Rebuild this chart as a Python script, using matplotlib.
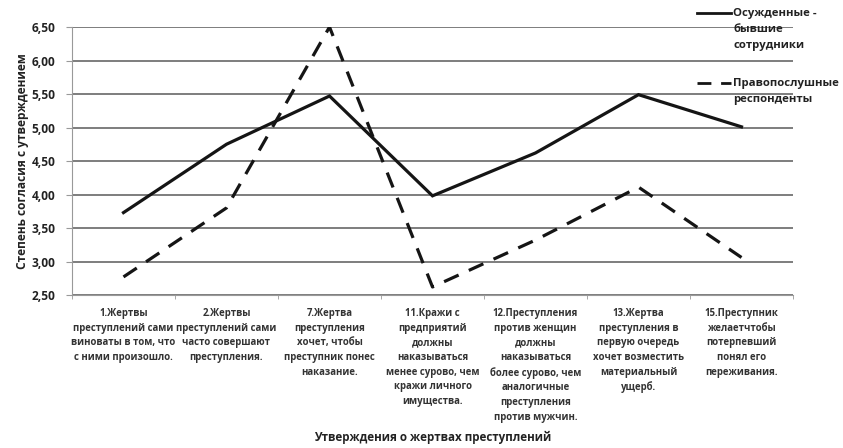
import matplotlib.pyplot as plt
from matplotlib.lines import Line2D

# data
categories = [
    "1.Жертвы\nпреступлений сами\nвиноваты в том, что\nс ними произошло.",
    "2.Жертвы\nпреступлений сами\nчасто совершают\nпреступления.",
    "7.Жертва\nпреступления\nхочет, чтобы\nпреступник понес\nнаказание.",
    "11.Кражи с\nпредприятий\nдолжны\nнаказываться\nменее сурово, чем\nкражи личного\nимущества.",
    "12.Преступления\nпротив женщин\nдолжны\nнаказываться\nболее сурово, чем\nаналогичные\nпреступления\nпротив мужчин.",
    "13.Жертва\nпреступления в\nпервую очередь\nхочет возместить\nматериальный\nущерб.",
    "15.Преступник\nжелаетчтобы\nпотерпевший\nпонял его\nпереживания.",
]
convicted = [3.73, 4.75, 5.47, 3.98, 4.62, 5.49, 5.01]
lawabiding = [2.77, 3.80, 6.50, 2.62, 3.32, 4.11, 3.06]
series_names = ["Осужденные -\nбывшие\nсотрудники", "Правопослушные\nреспонденты"]
yticks = [2.5, 3.0, 3.5, 4.0, 4.5, 5.0, 5.5, 6.0, 6.5]

plt.rcParams['font.family'] = ['Open Sans', 'DejaVu Sans']
plt.rcParams['font.weight'] = 'bold'

W, H = 843, 448
fig = plt.figure(figsize=(W / 100, H / 100), dpi=100)
ax = fig.add_axes([72 / W, 1 - 295 / H, (793 - 72) / W, (295 - 27) / H])

x = list(range(len(categories)))
ax.plot(x, convicted, color='#151515', lw=2.3, solid_joinstyle='miter')
ax.plot(x, lawabiding, color='#151515', lw=2.3, dashes=(5, 3.5))

ax.set_xlim(-0.5, len(categories) - 0.5)
ax.set_ylim(2.5, 6.5)
ax.set_yticks(yticks)
ax.set_yticklabels([f"{v:.2f}".replace('.', ',') for v in yticks], fontsize=8.6, fontweight='bold',
                   color='#222222')
ax.yaxis.grid(True, color='#5a5a5a', lw=1.1)
ax.set_axisbelow(True)

ax.set_xticks(x)
ax.set_xticklabels(categories, fontsize=6.9, fontweight='bold', color='#333333', linespacing=1.45, va='top')
ax.set_xticks([i - 0.5 for i in range(len(categories) + 1)], minor=True)
ax.tick_params(axis='x', which='major', length=0, pad=9.5)
ax.tick_params(axis='x', which='minor', length=3, color='#999999', direction='out')
ax.tick_params(axis='y', length=4, color='#999999', pad=8)

for s in ['top', 'right']:
    ax.spines[s].set_visible(False)
ax.spines['left'].set_color('#999999')
ax.spines['bottom'].set_color('#999999')

ax.set_ylabel("Степень согласия с утверждением", fontsize=8.6, fontweight='bold', labelpad=2,
              color='#222222')
fig.text(433 / W, 1 - 437 / H, "Утверждения о жертвах преступлений", ha='center', va='center',
         fontsize=8.4, fontweight='bold', color='#222222')

# legend drawn at figure level, aligned with first line of each entry
fig.add_artist(Line2D([697 / W, 731 / W], [1 - 13 / H, 1 - 13 / H], color='#151515', lw=2.0,
                      transform=fig.transFigure))
fig.add_artist(Line2D([697 / W, 731 / W], [1 - 83 / H, 1 - 83 / H], color='#151515', lw=2.0,
                      dashes=(5, 3.5), transform=fig.transFigure))
fig.text(733 / W, 1 - 8 / H, series_names[0], ha='left', va='top', fontsize=8.2,
         fontweight='bold', linespacing=1.62, color='#222222')
fig.text(733 / W, 1 - 78 / H, series_names[1], ha='left', va='top', fontsize=8.2,
         fontweight='bold', linespacing=1.62, color='#222222')

fig.savefig("out.png", dpi=100)
